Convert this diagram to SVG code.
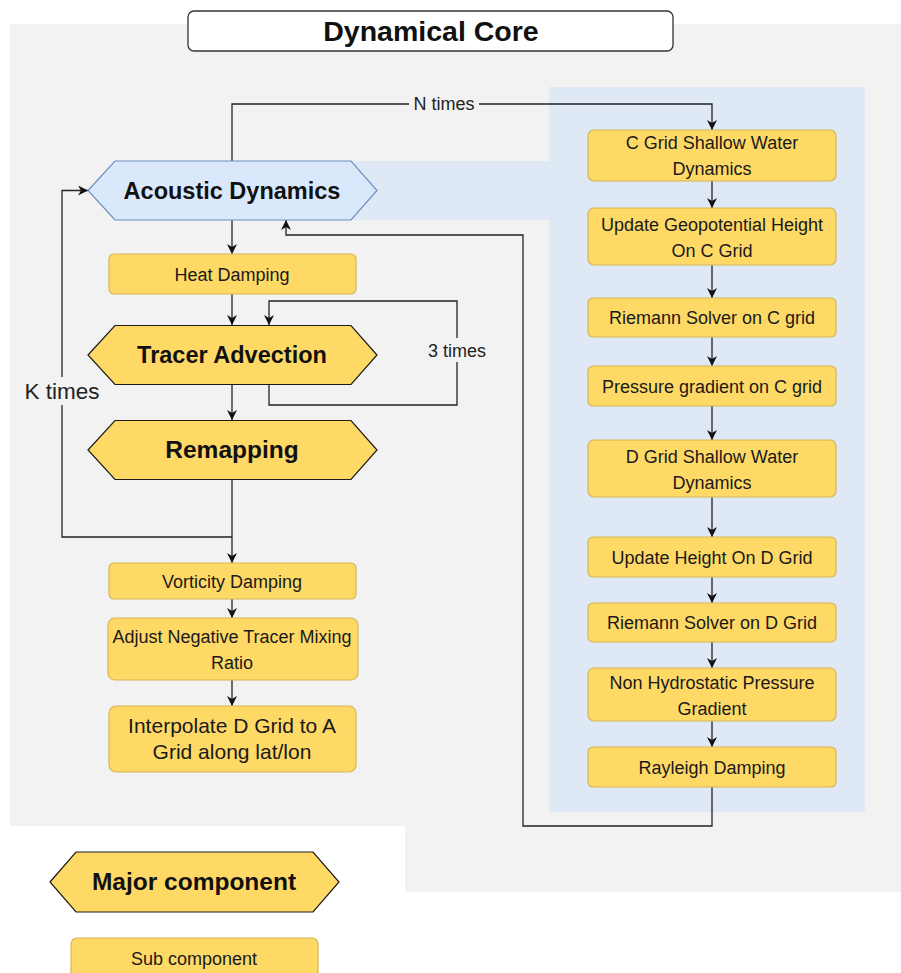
<svg xmlns="http://www.w3.org/2000/svg" width="901" height="973" viewBox="0 0 901 973">
<defs>
<marker id="ah" markerUnits="userSpaceOnUse" markerWidth="10" markerHeight="10" refX="10" refY="5" orient="auto">
<path d="M0,0 L10,5 L0,10 L3,5 z" fill="#111"/>
</marker>
<style>
.sub{fill:#ffd966;stroke:#d6b656;stroke-width:1.2}
.maj{fill:#ffd966;stroke:#1a1a1a;stroke-width:1.2}
.t{font-family:"Liberation Sans",Arial,sans-serif;font-size:18px;fill:#1a1a1a;text-anchor:middle}
.b{font-family:"Liberation Sans",Arial,sans-serif;font-weight:bold;font-size:23.5px;fill:#111;text-anchor:middle}
.ln{fill:none;stroke:#222;stroke-width:1.3}
.lbl{font-family:"Liberation Sans",Arial,sans-serif;font-size:18px;fill:#222;text-anchor:middle}
</style>
</defs>
<rect width="901" height="973" fill="#ffffff"/>
<polygon points="10,24 901,24 901,892 405,892 405,826 10,826" fill="#f2f2f2"/>
<rect x="549" y="87" width="316" height="725" fill="#dfe9f5"/>
<rect x="232" y="161" width="317" height="59" fill="#dfe9f5"/>
<g id="title">
<rect x="188" y="11" width="485" height="40" rx="6" fill="#ffffff" stroke="#333" stroke-width="1.3"/>
<text x="431" y="40.5" class="b" style="font-size:28.5px">Dynamical Core</text>
</g>
<g id="connectors">
<path class="ln" d="M232,161 V104 H712 V130" marker-end="url(#ah)"/>
<rect x="409" y="93" width="70" height="22" fill="#f2f2f2"/>
<text x="444" y="110" class="lbl">N times</text>
<path class="ln" d="M232,220 V254" marker-end="url(#ah)"/>
<path class="ln" d="M232,294 V325" marker-end="url(#ah)"/>
<path class="ln" d="M269,385 V405 H457 V301 H269 V325" marker-end="url(#ah)"/>
<rect x="426" y="338" width="64" height="24" fill="#f2f2f2"/>
<text x="457" y="357" class="lbl">3 times</text>
<path class="ln" d="M232,385 V420" marker-end="url(#ah)"/>
<path class="ln" d="M232,479 V563" marker-end="url(#ah)"/>
<path class="ln" d="M232,537 H62 V190.5 H88" marker-end="url(#ah)"/>
<rect x="20" y="377" width="84" height="28" fill="#f2f2f2"/>
<text x="62" y="399" class="lbl" style="font-size:22.5px">K times</text>
<path class="ln" d="M232,599 V618" marker-end="url(#ah)"/>
<path class="ln" d="M232,680 V706" marker-end="url(#ah)"/>
<path class="ln" d="M712,181 V208" marker-end="url(#ah)"/>
<path class="ln" d="M712,265 V298" marker-end="url(#ah)"/>
<path class="ln" d="M712,337 V366" marker-end="url(#ah)"/>
<path class="ln" d="M712,406 V440" marker-end="url(#ah)"/>
<path class="ln" d="M712,497 V537" marker-end="url(#ah)"/>
<path class="ln" d="M712,577 V603" marker-end="url(#ah)"/>
<path class="ln" d="M712,642 V668" marker-end="url(#ah)"/>
<path class="ln" d="M712,721 V747" marker-end="url(#ah)"/>
<path class="ln" d="M712,787 V826 H523 V235 H286 V220" marker-end="url(#ah)"/>
</g>
<g id="acoustic">
<polygon points="88,190.5 115,161 351,161 377,190.5 351,220 115,220" fill="#dae8fc" stroke="#6c8ebf" stroke-width="1.2"/>
<text x="232" y="199" class="b">Acoustic Dynamics</text>
</g>
<g id="heat">
<rect x="109" y="254" width="247" height="40" rx="5" class="sub"/>
<text x="232" y="280.5" class="t">Heat Damping</text>
</g>
<g id="tracer">
<polygon points="88,355 115,325.5 351,325.5 377,355 351,384.5 115,384.5" class="maj"/>
<text x="232" y="363" class="b">Tracer Advection</text>
</g>
<g id="remap">
<polygon points="88,450 115,420.5 351,420.5 377,450 351,479.5 115,479.5" class="maj"/>
<text x="232" y="458" class="b" style="font-size:24.5px">Remapping</text>
</g>
<g id="vort">
<rect x="109" y="563" width="247" height="36" rx="5" class="sub"/>
<text x="232" y="587.5" class="t">Vorticity Damping</text>
</g>
<g id="adjust">
<rect x="108" y="618" width="250" height="62" rx="7" class="sub"/>
<text x="232" y="643" class="t">Adjust Negative Tracer Mixing</text>
<text x="232" y="669" class="t">Ratio</text>
</g>
<g id="interp">
<rect x="109" y="706" width="247" height="66" rx="7" class="sub"/>
<text x="232" y="733" class="t" style="font-size:21px">Interpolate D Grid to A</text>
<text x="232" y="759" class="t" style="font-size:21px">Grid along lat/lon</text>
</g>
<g id="cgridsw">
<rect x="588" y="130" width="248" height="51" rx="6" class="sub"/>
<text x="712" y="149" class="t">C Grid Shallow Water</text>
<text x="712" y="175" class="t">Dynamics</text>
</g>
<g id="geopot">
<rect x="588" y="208" width="248" height="57" rx="6" class="sub"/>
<text x="712" y="230.5" class="t">Update Geopotential Height</text>
<text x="712" y="256.5" class="t">On C Grid</text>
</g>
<g id="riemannc">
<rect x="588" y="298" width="248" height="39" rx="5" class="sub"/>
<text x="712" y="324" class="t">Riemann Solver on C grid</text>
</g>
<g id="pressc">
<rect x="588" y="366" width="248" height="40" rx="5" class="sub"/>
<text x="712" y="392.5" class="t">Pressure gradient on C grid</text>
</g>
<g id="dgridsw">
<rect x="588" y="440" width="248" height="57" rx="6" class="sub"/>
<text x="712" y="462.5" class="t">D Grid Shallow Water</text>
<text x="712" y="488.5" class="t">Dynamics</text>
</g>
<g id="heightd">
<rect x="588" y="537" width="248" height="40" rx="5" class="sub"/>
<text x="712" y="563.5" class="t">Update Height On D Grid</text>
</g>
<g id="riemannd">
<rect x="588" y="603" width="248" height="39" rx="5" class="sub"/>
<text x="712" y="629" class="t">Riemann Solver on D Grid</text>
</g>
<g id="nonhydro">
<rect x="588" y="668" width="248" height="53" rx="6" class="sub"/>
<text x="712" y="688.5" class="t">Non Hydrostatic Pressure</text>
<text x="712" y="714.5" class="t">Gradient</text>
</g>
<g id="rayleigh">
<rect x="588" y="747" width="248" height="40" rx="5" class="sub"/>
<text x="712" y="773.5" class="t">Rayleigh Damping</text>
</g>
<g id="legend-major">
<polygon points="50,882 76,852 313,852 339,882 313,912 76,912" class="maj"/>
<text x="194" y="890" class="b" style="font-size:24.5px">Major component</text>
</g>
<g id="legend-sub">
<rect x="71" y="938" width="247" height="50" rx="6" class="sub"/>
<text x="194" y="964.5" class="t">Sub component</text>
</g>
</svg>
